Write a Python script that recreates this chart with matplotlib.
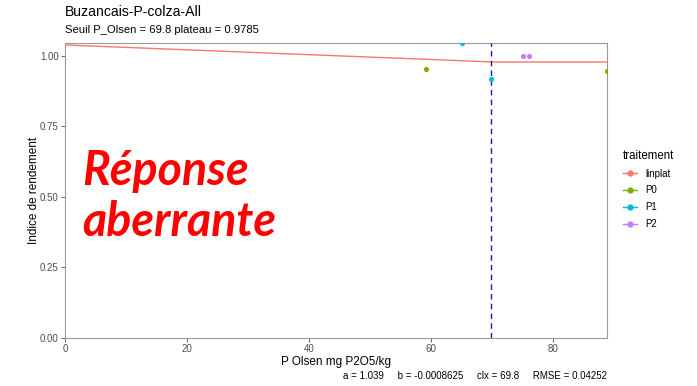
import numpy as np
import matplotlib.pyplot as plt
from matplotlib.lines import Line2D

plt.rcParams['font.family'] = ['Liberation Sans', 'DejaVu Sans']

# fitted linear-plateau model
a = 1.039
b = -0.0008625
clx = 69.8
plateau = 0.9785
rmse = 0.04252

# observations per treatment
p0_x = [59.2, 88.9]
p0_y = [0.954, 0.947]
p1_x = [65.1, 69.8]
p1_y = [1.047, 0.918]
p2_x = [75.2, 76.1]
p2_y = [1.0, 1.0]

x_max = 88.9
col = {'linplat': '#F8766D', 'P0': '#7CAE00', 'P1': '#00BFC4', 'P2': '#C77CFF'}

fig = plt.figure(figsize=(6.97, 3.86), dpi=100)
ax = fig.add_axes([65 / 697, 48 / 386, 542 / 697, 295 / 386])

xs = np.linspace(0, x_max, 300)
ys = np.where(xs < clx, a + b * xs, plateau)
ax.plot(xs, ys, color=col['linplat'], lw=1.0, zorder=2)

ax.axvline(clx, color='#1c1ca8', ls=(0, (4, 3)), lw=1.0, zorder=3)

for name, px, py in [('P0', p0_x, p0_y), ('P1', p1_x, p1_y), ('P2', p2_x, p2_y)]:
    ax.scatter(px, py, s=14, color=col[name], zorder=4, clip_on=True, linewidths=0)

ax.set_xlim(0, x_max)
ax.set_ylim(0, 1.046)
ax.set_xticks([0, 20, 40, 60, 80])
ax.set_yticks([0, 0.25, 0.5, 0.75, 1.0])
ax.set_yticklabels(['0.00', '0.25', '0.50', '0.75', '1.00'])
ax.tick_params(colors='#4d4d4d', labelsize=7, length=3, width=0.6,
               labelcolor='#4d4d4d', pad=1.5)
for s in ax.spines.values():
    s.set_color('#9a9a9a')
    s.set_linewidth(0.8)

ax.set_xlabel('P Olsen mg P2O5/kg', fontsize=8.5, labelpad=1.5)
ax.set_ylabel('Indice de rendement', fontsize=8.5, labelpad=0)

fig.text(65 / 697, 1 - 12 / 386, 'Buzancais-P-colza-All', fontsize=10.1, va='center')
fig.text(65 / 697, 1 - 30 / 386, 'Seuil P_Olsen = %.1f plateau = %s' % (clx, plateau),
         fontsize=8.1, va='center')
fig.text(607 / 697, 1 - 376 / 386,
         'a = %s     b = %s     clx = %s     RMSE = %s' % (a, b, clx, rmse),
         fontsize=7, ha='right', va='center')

# annotation, one text per line so each baseline sits where wanted
for word, yb in [('Réponse', 0.543), ('aberrante', 0.362)]:
    ax.text(2.8, yb, word, color='red', fontsize=33.5, fontweight='bold',
            fontstyle='italic', family='Lato', va='baseline', ha='left')

handles = [Line2D([], [], color=col[k], marker='o', markersize=3.5, lw=1.0)
           for k in ['linplat', 'P0', 'P1', 'P2']]
leg = fig.legend(handles, ['linplat', 'P0', 'P1', 'P2'], title='traitement',
                 loc='upper left', bbox_to_anchor=(614 / 697, 1 - 141 / 386),
                 frameon=False, fontsize=7, title_fontsize=8.3, handlelength=1.5,
                 labelspacing=0.7)
leg._legend_box.align = 'left'

fig.savefig('out.png', dpi=100)
